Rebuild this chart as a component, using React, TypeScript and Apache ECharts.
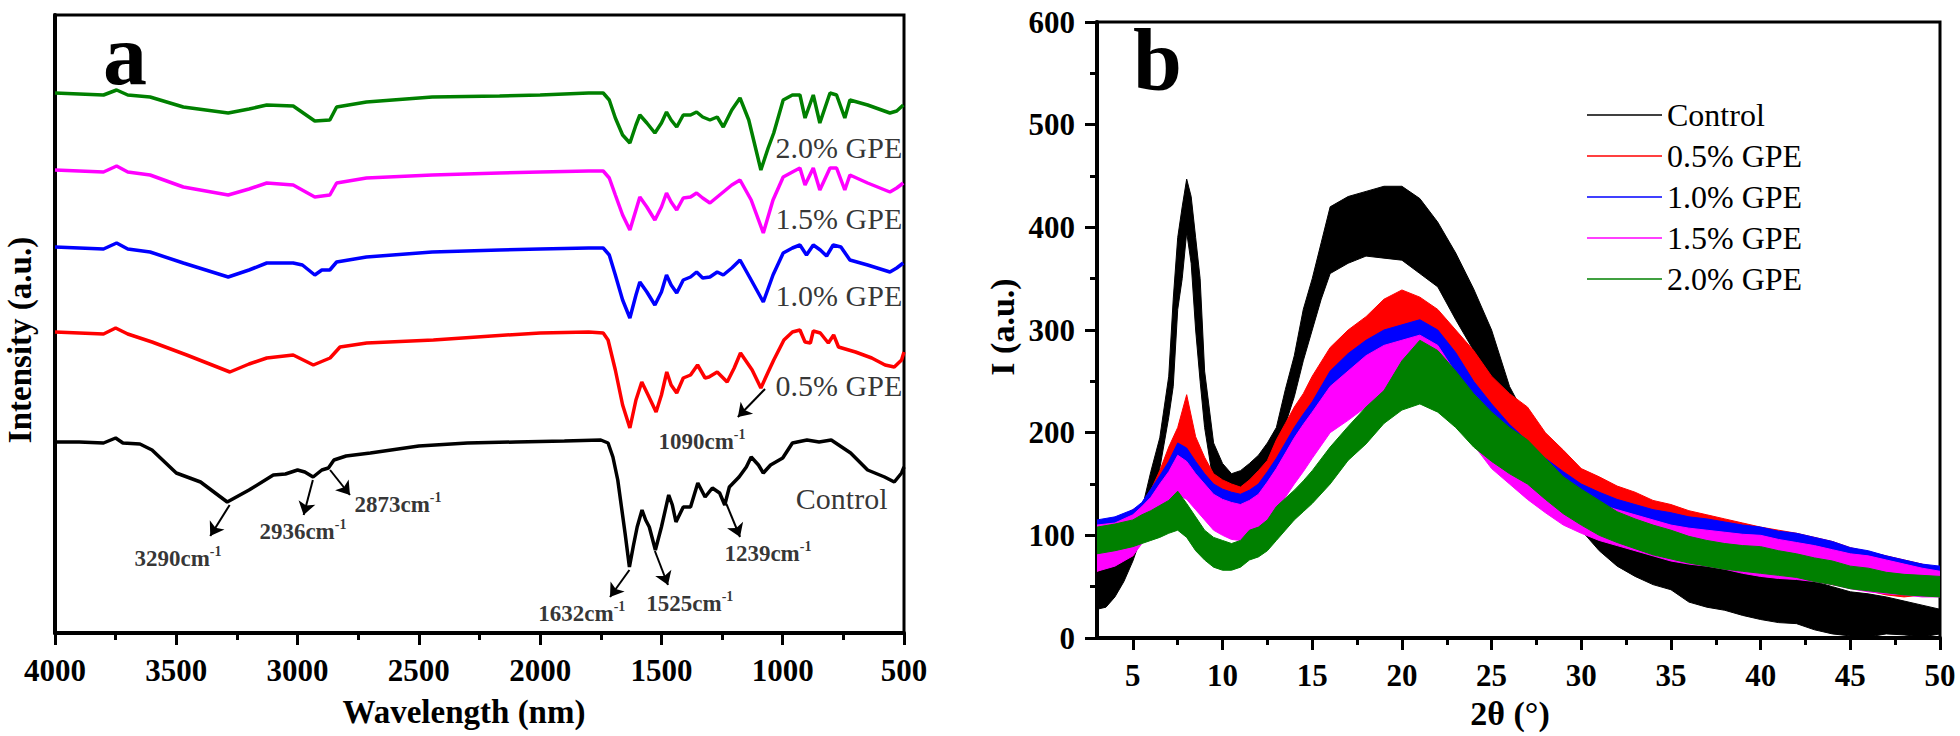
import React, { useEffect, useRef } from 'react';
import * as echarts from 'echarts';

const FONT = 'Liberation Serif, Times New Roman, DejaVu Serif, serif';

// ---------- Panel a : FTIR spectra (wavenumber, offset intensity a.u.) ----------
const ctrlW = [4000,3900,3800,3750,3720,3650,3600,3500,3400,3290,3200,3100,3050,3000,2970,2936,2900,2873,2850,2800,2700,2500,2300,2100,1900,1750,1720,1700,1680,1650,1632,1615,1600,1580,1565,1550,1525,1500,1470,1455,1440,1410,1380,1350,1320,1290,1260,1239,1220,1180,1150,1130,1100,1080,1050,1000,960,900,850,800,720,650,580,540,510,500];
const ctrlI = [191,191,190,195,190,189,183,160,151,131,143,158,159,163,161,156,163,165,173,177,180,187,190,191,192,193,190,176,153,100,66,88,106,123,113,106,83,106,138,128,111,126,126,150,136,145,140,128,146,156,166,176,168,160,168,175,190,193,191,193,180,163,156,151,160,166];

const redW = [4000,3900,3800,3750,3700,3600,3457,3279,3200,3127,3018,2935,2866,2825,2715,2440,2200,2000,1800,1740,1720,1690,1660,1630,1605,1581,1555,1522,1500,1478,1460,1437,1410,1380,1351,1320,1304,1270,1229,1200,1174,1126,1090,1060,1037,995,960,929,908,886,874,845,812,790,770,700,633,578,540,510,500];
const redI = [301,300,299,305,299,291,278,261,269,275,278,268,275,286,290,293,297,300,301,300,293,263,228,205,233,251,238,221,238,261,248,240,255,258,268,255,256,261,251,265,280,263,245,261,273,293,301,303,291,290,302,300,290,298,286,281,275,268,266,273,281];

const blueW = [4000,3900,3800,3746,3700,3608,3471,3286,3200,3127,3018,2980,2929,2900,2867,2839,2716,2445,2167,2000,1800,1740,1715,1690,1660,1630,1605,1589,1560,1527,1500,1479,1460,1437,1410,1380,1355,1330,1300,1270,1245,1210,1176,1130,1080,1040,998,960,929,902,874,845,819,792,760,723,650,558,530,503];
const blueI = [386,385,384,390,384,381,370,356,363,370,370,368,358,363,363,371,376,381,383,384,385,385,378,358,333,315,338,351,341,328,341,358,348,340,353,356,361,355,356,361,358,365,373,353,331,358,380,385,388,378,388,383,377,388,386,373,368,361,365,370];

const magW = [4000,3900,3800,3746,3700,3608,3471,3286,3200,3127,3018,2929,2867,2839,2716,2445,2167,2000,1800,1740,1715,1690,1660,1630,1605,1589,1560,1527,1500,1479,1460,1437,1410,1380,1355,1330,1300,1270,1245,1210,1176,1130,1080,1040,998,960,929,908,874,847,805,778,744,723,650,558,530,503];
const magI = [463,462,461,467,461,458,446,438,444,450,448,436,438,450,455,458,460,461,462,462,455,438,418,403,423,436,426,413,426,440,431,423,435,436,440,435,430,436,441,448,453,433,400,433,456,461,465,448,465,443,465,465,443,458,450,441,445,450];

const greenW = [4000,3900,3800,3746,3700,3608,3471,3286,3200,3127,3018,2929,2867,2839,2716,2445,2167,2000,1800,1740,1715,1690,1660,1630,1605,1589,1560,1527,1500,1479,1460,1437,1410,1380,1355,1330,1300,1270,1245,1210,1176,1140,1090,1060,1037,998,960,929,908,874,847,805,778,744,723,650,558,530,503];
const greenI = [540,539,538,543,538,536,526,520,524,528,527,512,513,526,531,536,537,538,540,540,533,515,498,490,508,518,510,500,510,521,513,506,518,518,521,516,513,516,506,523,535,513,463,485,500,533,538,538,515,538,510,540,538,515,533,528,520,522,528];

const ftirNames = ['Control', '0.5% GPE', '1.0% GPE', '1.5% GPE', '2.0% GPE'];
const ftirColors = ['#000000', '#ff0000', '#0000ff', '#ff00ff', '#008000'];

// peak annotations (panel a)
const annoText = ['3290', '2936', '2873', '1632', '1525', '1239', '1090'];
const annoFrom = [[3280, 128], [2937, 153], [2866, 163], [1632, 63], [1527, 82], [1232, 129], [1073, 244]];
const annoTo = [[3360, 97], [2975, 118], [2784, 138], [1712, 36], [1473, 48], [1176, 96], [1185, 216]];
const annoAt = [[3493, 76], [2978, 103], [2586, 130], [1828, 21], [1383, 31], [1061, 81], [1333, 193]];

// curve labels (panel a)
const curveLabel = ['2.0% GPE', '1.5% GPE', '1.0% GPE', '0.5% GPE', 'Control'];
const curveLabelAt = [[505, 486], [505, 415], [505, 338], [505, 248], [566, 135]];

// ---------- Panel b : XRD (2θ, lower / upper envelope of the noisy trace) ----------
const ctrlX = [3,3.5,4,4.5,5,5.5,6,6.5,7,7.25,7.5,7.75,8,8.25,8.5,8.75,9,9.5,10,10.5,11,11.5,12,12.5,13,13.5,14,14.5,15,15.5,16,17,18,19,20,21,22,23,24,25,26,27,28,29,30,31,32,33,34,35,36,37,38,39,40,41,42,43,44,45,46,47,48,49,50];
const ctrlLo = [28,30,40,55,75,100,132,165,215,245,320,350,395,365,300,250,205,150,140,133,133,138,145,158,172,208,235,270,300,330,355,365,372,370,368,355,342,310,280,235,190,167,150,120,105,85,70,60,52,47,35,30,27,22,18,15,14,8,4,2,1,4,3,1,4];
const ctrlHi = [75,68,72,80,102,125,162,195,255,330,390,420,447,430,390,350,260,190,170,160,163,170,178,190,205,242,275,320,350,385,420,430,435,440,440,428,405,375,340,300,245,212,195,170,150,130,118,112,100,92,82,78,70,68,66,64,62,55,50,45,43,40,36,32,28];

const xrdX = [3,4,5,5.5,6,6.5,7,7.5,8,8.5,9,9.5,10,10.5,11,11.5,12,12.5,13,13.5,14,14.5,15,16,17,18,19,20,21,22,23,24,25,26,27,28,29,30,31,32,33,34,35,36,37,38,39,40,41,42,43,44,45,46,47,48,49,50];
const redLo = [65,72,80,95,115,128,144,160,176,160,144,134,128,124,121,124,134,141,154,170,186,199,212,231,245,254,262,264,268,262,245,225,202,185,170,150,135,120,112,102,96,91,87,80,74,70,68,66,63,60,56,52,49,46,42,40,42,43];
const redHi = [110,115,125,130,144,163,186,205,237,196,176,160,154,150,147,154,163,173,193,209,225,238,255,283,300,313,330,339,332,320,300,280,255,238,225,200,183,165,157,148,142,134,130,124,120,116,112,108,105,102,98,94,88,84,80,76,72,66];
const blueLo = [70,75,85,95,112,125,140,155,150,140,125,115,110,106,105,108,115,126,138,150,165,178,190,215,230,242,250,255,255,250,228,205,182,165,150,135,122,112,102,95,90,88,85,82,80,76,73,70,67,64,60,57,53,50,48,46,45,45];
const blueHi = [115,118,125,132,145,158,172,190,185,172,160,150,145,142,140,144,150,162,175,190,205,218,230,260,277,290,300,305,310,300,278,250,228,208,192,175,162,150,142,135,130,125,122,118,116,113,110,108,104,102,98,94,88,85,80,76,72,70];
const magLo = [65,70,80,92,105,115,125,140,135,125,115,105,100,96,95,97,100,112,125,137,150,162,175,200,212,225,235,240,240,230,210,188,165,150,135,122,110,102,95,90,85,80,75,72,70,67,63,60,58,57,55,52,48,45,43,42,40,40];
const magHi = [110,112,120,128,137,150,162,178,172,160,150,140,135,132,130,134,140,152,165,180,195,208,220,245,260,275,285,290,295,285,258,235,210,192,175,162,150,140,130,125,120,115,110,107,105,103,101,100,96,93,90,86,82,80,76,72,68,65];
const greenLo = [82,85,89,92,95,98,102,105,98,85,76,69,66,66,69,76,79,85,95,105,115,123,131,150,173,189,209,222,228,220,205,186,172,160,150,135,121,110,100,93,87,81,77,73,70,67,65,63,61,59,55,52,48,46,44,42,41,40];
const greenHi = [108,111,115,120,124,129,134,143,131,118,105,98,95,92,95,105,108,115,128,136,144,153,163,186,206,225,241,270,290,280,260,238,220,205,193,175,157,145,134,123,116,110,105,99,95,92,90,89,85,82,78,75,70,68,64,62,61,60];

const xrdNames = ['Control', '0.5% GPE', '1.0% GPE', '1.5% GPE', '2.0% GPE'];
const xrdColors = ['#000000', '#ff0000', '#0000ff', '#ff00ff', '#008000'];

const xMajor = [5, 10, 15, 20, 25, 30, 35, 40, 45, 50];
const xMinor = [7.5, 12.5, 17.5, 22.5, 27.5, 32.5, 37.5, 42.5, 47.5];

function zip(a: number[], b: number[]) {
  return a.map((v, i) => [v, b[i]]);
}

const TRANSPARENT = 'rgba(0,0,0,0)';

// legend layout (pixels)
const LEG_LEFT = 1587;
const LEG_TOP = 99;
const LEG_ROW = 41;
const LEG_LINE = 75;

function buildOption(): any {
  const ftirData = [zip(ctrlW, ctrlI), zip(redW, redI), zip(blueW, blueI), zip(magW, magI), zip(greenW, greenI)];
  const ftirSeries = ftirNames.map((n, i) => ({
    name: 'FTIR ' + n,
    type: 'line',
    xAxisIndex: 0,
    yAxisIndex: 0,
    data: ftirData[i],
    symbol: 'none',
    smooth: false,
    lineStyle: { color: ftirColors[i], width: 3.5 },
    itemStyle: { color: ftirColors[i] },
    z: 2,
  }));

  const xrdBands = [
    { x: ctrlX, lo: ctrlLo, hi: ctrlHi },
    { x: xrdX, lo: redLo, hi: redHi },
    { x: xrdX, lo: blueLo, hi: blueHi },
    { x: xrdX, lo: magLo, hi: magHi },
    { x: xrdX, lo: greenLo, hi: greenHi },
  ];
  const xrdSeries = xrdBands.map((b, i) => ({
    name: xrdNames[i],
    type: 'custom',
    xAxisIndex: 1,
    yAxisIndex: 1,
    data: [[b.x[0], b.lo[0]]],
    color: xrdColors[i],
    itemStyle: { color: xrdColors[i] },
    clip: true,
    silent: true,
    z: 2,
    renderItem: (_params: any, api: any) => {
      const pts: number[][] = [];
      for (let k = 0; k < b.x.length; k++) pts.push(api.coord([b.x[k], b.hi[k]]));
      for (let k = b.x.length - 1; k >= 0; k--) pts.push(api.coord([b.x[k], b.lo[k]]));
      return {
        type: 'polygon',
        shape: { points: pts },
        style: { fill: xrdColors[i], stroke: xrdColors[i], lineWidth: 1 },
      };
    },
  }));

  const arrowSeries = {
    type: 'lines',
    coordinateSystem: 'cartesian2d',
    xAxisIndex: 0,
    yAxisIndex: 0,
    symbol: ['none', 'arrow'],
    symbolSize: 13,
    lineStyle: { color: '#000', width: 2, opacity: 1 },
    data: annoFrom.map((f, i) => ({ coords: [f, annoTo[i]] })),
    silent: true,
    z: 3,
  };

  const annoLabelSeries = {
    type: 'scatter',
    xAxisIndex: 0,
    yAxisIndex: 0,
    symbolSize: 1,
    itemStyle: { color: TRANSPARENT },
    silent: true,
    data: annoAt.map((p, i) => ({ value: p, name: annoText[i] })),
    label: {
      show: true,
      position: 'inside',
      formatter: (p: any) => '{n|' + p.name + 'cm}{s|-1}',
      rich: {
        n: { fontFamily: FONT, fontWeight: 'bold', fontSize: 23, color: '#000', lineHeight: 26, verticalAlign: 'bottom' },
        s: { fontFamily: FONT, fontWeight: 'bold', fontSize: 14, color: '#000', lineHeight: 14, verticalAlign: 'top' },
      },
    },
    z: 4,
  };

  const curveLabelSeries = {
    type: 'scatter',
    xAxisIndex: 0,
    yAxisIndex: 0,
    symbolSize: 1,
    itemStyle: { color: TRANSPARENT },
    silent: true,
    data: curveLabelAt.map((p, i) => ({ value: p, name: curveLabel[i] })),
    label: {
      show: true,
      position: 'left',
      distance: 0,
      formatter: (p: any) => '{t|' + p.name + '}',
      rich: { t: { fontFamily: FONT, fontSize: 30, color: '#000' } },
    },
    z: 4,
  };

  const tickRich = { t: { fontFamily: FONT, fontWeight: 'bold', fontSize: 31, color: '#000' } };
  const boldLabel = { fontFamily: FONT, fontWeight: 'bold', fontSize: 31, color: '#000', formatter: (v: number) => '{t|' + v + '}', rich: tickRich };
  const axisLineStyle = { color: '#000', width: 4 };
  const tickStyle = { color: '#000', width: 3 };

  const legendLines = xrdNames.map((_n, i) => ({
    type: 'line',
    silent: true,
    z: 10,
    shape: {
      x1: LEG_LEFT,
      y1: LEG_TOP + 16 + i * LEG_ROW,
      x2: LEG_LEFT + LEG_LINE,
      y2: LEG_TOP + 16 + i * LEG_ROW,
    },
    style: { stroke: xrdColors[i], lineWidth: 1.5 },
  }));

  return {
    animation: false,
    backgroundColor: '#fff',
    textStyle: { fontFamily: FONT },
    grid: [
      { left: 55, top: 15, width: 849, height: 618, show: true, borderColor: '#000', borderWidth: 3, backgroundColor: 'transparent' },
      { left: 1097, top: 22, width: 843, height: 616, show: true, borderColor: '#000', borderWidth: 3, backgroundColor: 'transparent' },
    ],
    xAxis: [
      {
        gridIndex: 0, type: 'value', min: 500, max: 4000, interval: 500, inverse: true, position: 'bottom',
        axisLine: { onZero: false, lineStyle: axisLineStyle },
        axisTick: { length: 12, lineStyle: tickStyle },
        minorTick: { show: true, splitNumber: 2, length: 7, lineStyle: tickStyle },
        axisLabel: { ...boldLabel, margin: 22 },
        splitLine: { show: false },
      },
      {
        gridIndex: 1, type: 'value', min: 3, max: 50, position: 'bottom',
        axisLine: { onZero: false, lineStyle: axisLineStyle },
        axisTick: { length: 12, lineStyle: tickStyle, customValues: xMajor },
        axisLabel: { ...boldLabel, margin: 22, customValues: xMajor },
        splitLine: { show: false },
      },
      {
        gridIndex: 1, type: 'value', min: 3, max: 50, position: 'bottom',
        axisLine: { show: false, onZero: false },
        axisTick: { length: 7, lineStyle: tickStyle, customValues: xMinor },
        axisLabel: { show: false },
        splitLine: { show: false },
      },
    ],
    yAxis: [
      {
        gridIndex: 0, type: 'value', min: 0, max: 618,
        axisLine: { show: true, onZero: false, lineStyle: axisLineStyle },
        axisTick: { show: false },
        axisLabel: { show: false },
        splitLine: { show: false },
      },
      {
        gridIndex: 1, type: 'value', min: 0, max: 600, interval: 100,
        axisLine: { show: true, onZero: false, lineStyle: axisLineStyle },
        axisTick: { length: 12, lineStyle: tickStyle },
        minorTick: { show: true, splitNumber: 2, length: 7, lineStyle: tickStyle },
        axisLabel: { ...boldLabel, margin: 22 },
        splitLine: { show: false },
      },
    ],
    legend: {
      data: xrdNames,
      orient: 'vertical',
      left: LEG_LEFT,
      top: LEG_TOP,
      padding: 0,
      itemWidth: LEG_LINE,
      itemHeight: 2,
      itemGap: LEG_ROW - 32,
      icon: 'rect',
      selectedMode: false,
      itemStyle: { opacity: 0 },
      textStyle: { fontFamily: FONT, fontSize: 32, color: '#000', lineHeight: 32 },
    },
    graphic: [
      ...legendLines,
      { type: 'text', left: 103, top: 10, style: { text: 'a', font: 'bold 88px Liberation Serif, serif', fill: '#000' } },
      { type: 'text', left: 1133, top: 16, style: { text: 'b', font: 'bold 88px Liberation Serif, serif', fill: '#000' } },
      { type: 'text', x: 464, y: 712, style: { text: 'Wavelength (nm)', font: 'bold 33px Liberation Serif, serif', fill: '#000', align: 'center', verticalAlign: 'middle' } },
      { type: 'text', x: 1510, y: 713, style: { text: '2θ (°)', font: 'bold 34px Liberation Serif, serif', fill: '#000', align: 'center', verticalAlign: 'middle' } },
      { type: 'text', x: 20, y: 340, rotation: Math.PI / 2, style: { text: 'Intensity (a.u.)', font: 'bold 33px Liberation Serif, serif', fill: '#000', align: 'center', verticalAlign: 'middle' } },
      { type: 'text', x: 1002, y: 327, rotation: Math.PI / 2, style: { text: 'I (a.u.)', font: 'bold 34px Liberation Serif, serif', fill: '#000', align: 'center', verticalAlign: 'middle' } },
    ],
    series: [...ftirSeries, arrowSeries, annoLabelSeries, curveLabelSeries, ...xrdSeries],
  };
}

export default function App() {
  const ref = useRef<HTMLDivElement>(null);
  useEffect(() => {
    document.body.style.margin = '0';
    const chart = echarts.init(ref.current as HTMLDivElement, null, { renderer: 'svg' });
    chart.setOption(buildOption());
    return () => chart.dispose();
  }, []);
  return (
    <div
      ref={ref}
      style={{ position: 'absolute', left: 0, top: 0, width: 1960, height: 736, background: '#fff' }}
    />
  );
}
